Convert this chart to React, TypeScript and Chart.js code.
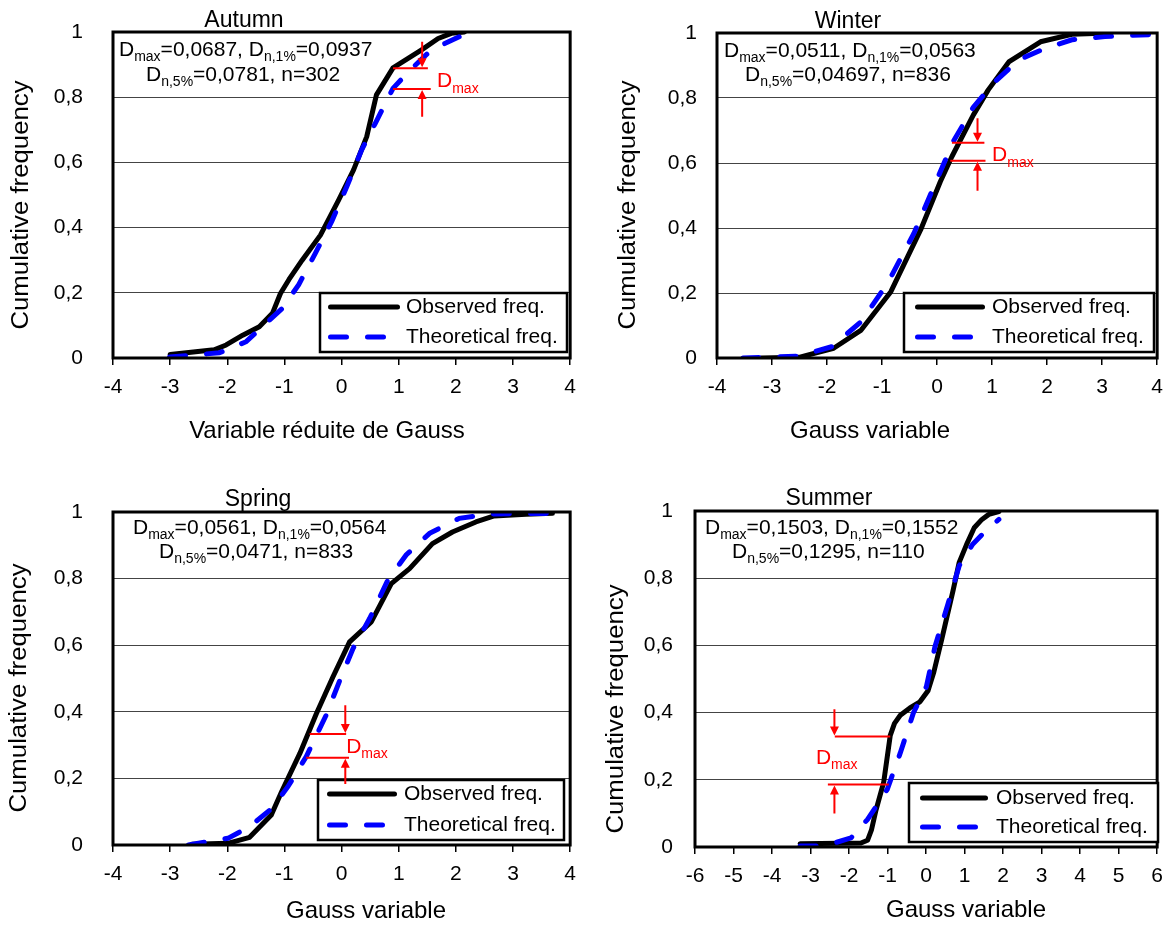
import React, { useEffect, useRef } from "react";
import { Chart, registerables } from "chart.js";

Chart.register(...registerables);

const FONT = '"Liberation Sans", Arial, Helvetica, sans-serif';

// ---------------- Data ----------------
const autumnObsX = [-3.0, -2.23, -2.02, -1.73, -1.44, -1.21, -1.07, -0.92, -0.69, -0.37, -0.05, 0.21, 0.44, 0.61, 0.9, 1.4, 1.69, 1.92, 2.15];
const autumnObsY = [0.011, 0.025, 0.04, 0.07, 0.096, 0.137, 0.198, 0.241, 0.3, 0.377, 0.485, 0.577, 0.679, 0.807, 0.89, 0.945, 0.98, 0.996, 1.0];
const autumnTheoX = [-3.01, -2.14, -1.67, -1.04, -0.75, -0.46, -0.17, 0.09, 0.35, 0.59, 0.9, 1.17, 1.57, 2.15];
const autumnTheoY = [0.003, 0.016, 0.05, 0.152, 0.225, 0.321, 0.42, 0.525, 0.638, 0.72, 0.827, 0.878, 0.945, 0.993];

const winterObsX = [-3.2, -2.51, -1.88, -1.38, -0.84, -0.3, 0.06, 0.27, 0.66, 0.93, 1.31, 1.88, 2.45, 2.99];
const winterObsY = [0.0, 0.002, 0.03, 0.086, 0.204, 0.394, 0.543, 0.62, 0.748, 0.825, 0.912, 0.973, 0.996, 0.999];
const winterTheoX = [-3.53, -2.51, -1.91, -1.38, -0.9, -0.42, -0.06, 0.3, 0.66, 1.05, 1.49, 1.97, 2.45, 3.05, 3.98];
const winterTheoY = [0.0, 0.006, 0.035, 0.112, 0.23, 0.384, 0.527, 0.668, 0.772, 0.85, 0.918, 0.953, 0.979, 0.989, 0.996];

const springObsX = [-2.62, -1.99, -1.61, -1.23, -1.05, -0.73, -0.44, -0.15, 0.14, 0.52, 0.87, 1.19, 1.59, 1.94, 2.35, 2.67, 3.23, 3.69];
const springObsY = [0.002, 0.005, 0.023, 0.09, 0.16, 0.275, 0.395, 0.505, 0.61, 0.67, 0.785, 0.83, 0.905, 0.94, 0.97, 0.988, 0.993, 0.996];
const springTheoX = [-2.68, -1.99, -1.61, -1.22, -0.94, -0.62, -0.27, -0.03, 0.2, 0.49, 0.81, 1.13, 1.54, 2.06, 2.64, 3.69];
const springTheoY = [0.0, 0.02, 0.055, 0.11, 0.175, 0.265, 0.39, 0.495, 0.59, 0.68, 0.796, 0.871, 0.936, 0.981, 0.994, 0.996];

const summerObsX = [-3.27, -1.69, -1.52, -1.42, -1.3, -1.1, -0.93, -0.82, -0.67, -0.42, -0.16, 0.05, 0.2, 0.4, 0.7, 0.86, 1.05, 1.25, 1.45, 1.63, 1.89];
const summerObsY = [0.01, 0.012, 0.02, 0.05, 0.11, 0.193, 0.332, 0.368, 0.392, 0.414, 0.432, 0.465, 0.52, 0.615, 0.763, 0.847, 0.9, 0.95, 0.975, 0.99, 0.998];
const summerTheoX = [-3.27, -2.85, -2.38, -1.95, -1.52, -1.01, -0.67, -0.33, 0.01, 0.23, 0.57, 0.86, 1.21, 1.55, 1.89];
const summerTheoY = [0.003, 0.003, 0.012, 0.027, 0.082, 0.171, 0.28, 0.399, 0.478, 0.596, 0.724, 0.837, 0.901, 0.941, 0.975];

const obsX = [autumnObsX, winterObsX, springObsX, summerObsX];
const obsY = [autumnObsY, winterObsY, springObsY, summerObsY];
const theoX = [autumnTheoX, winterTheoX, springTheoX, summerTheoX];
const theoY = [autumnTheoY, winterTheoY, springTheoY, summerTheoY];

const seasonNames = ["Autumn", "Winter", "Spring", "Summer"];
const dmaxValues = ["0,0687", "0,0511", "0,0561", "0,1503"];
const dn1Values = ["0,0937", "0,0563", "0,0564", "0,1552"];
const dn5Values = ["0,0781", "0,04697", "0,0471", "0,1295"];
const nValues = ["302", "836", "833", "110"];
const legendLabels = ["Observed freq.", "Theoretical freq."];
const xAxisTitles = ["Variable réduite de Gauss", "Gauss variable", "Gauss variable", "Gauss variable"];
const yAxisTitle = "Cumulative frequency";
const yTickLabels = ["0", "0,2", "0,4", "0,6", "0,8", "1"];
const xTickLabels4 = ["-4", "-3", "-2", "-1", "0", "1", "2", "3", "4"];
const xTickLabels6 = ["-6", "-5", "-4", "-3", "-2", "-1", "0", "1", "2", "3", "4", "5", "6"];
const xTickLabelSets = [xTickLabels4, xTickLabels4, xTickLabels4, xTickLabels6];
const xMins = [-4, -4, -4, -6];
const xMaxs = [4, 4, 4, 6];

// Dmax marker (data units)
const dmaxArrowX = [1.41, 0.735, 0.065, -2.38];
const dmaxUpperY = [0.889, 0.662, 0.333, 0.329];
const dmaxLowerY = [0.825, 0.607, 0.262, 0.186];
const dmaxUpperFrom = [0.9, 0.27, -0.56, -2.37];
const dmaxUpperTo = [1.51, 0.86, 0.08, -0.93];
const dmaxLowerFrom = [0.9, 0.24, -0.62, -2.55];
const dmaxLowerTo = [1.56, 0.88, 0.13, -0.97];
const dmaxArrowTop = [0.97, 0.738, 0.42, 0.41];
const dmaxArrowBottom = [0.74, 0.515, 0.183, 0.1];
const dmaxLabelX = [1.67, 1.0, 0.08, -2.86];
const dmaxLabelY = [0.853, 0.628, 0.3, 0.27];

// ---------------- Layout (page px) ----------------
type Panel = {
  canvas: number[]; area: number[]; yPad: number; title: number[];
  s1: number[]; s2: number[]; box: number[]; lineX: number[]; textX: number; rows: number[];
  xTitle: number[]; yTitle: number[];
};
const PANELS: Panel[] = [
  { canvas: [0, 0, 586, 464], area: [113, 32, 573, 358], yPad: 30, title: [244, 21], s1: [119, 48], s2: [146, 73],
    box: [320, 293, 567, 352], lineX: [328, 400], textX: 406, rows: [307, 337], xTitle: [327, 431], yTitle: [22, 205] },
  { canvas: [586, 0, 587, 464], area: [717, 33, 1163, 358], yPad: 20, title: [848, 22], s1: [724, 49], s2: [745, 73],
    box: [904, 293, 1154, 352], lineX: [915, 985], textX: 992, rows: [307, 337], xTitle: [870, 431], yTitle: [629, 205] },
  { canvas: [0, 464, 586, 465], area: [113, 512, 571, 845], yPad: 30, title: [258, 500], s1: [133, 526], s2: [159, 550],
    box: [318, 780, 564, 840], lineX: [327, 397], textX: 404, rows: [794, 825], xTitle: [366, 911], yTitle: [20, 688] },
  { canvas: [586, 464, 587, 465], area: [695, 511, 1164, 847], yPad: 22, title: [829, 499], s1: [705, 526], s2: [732, 550],
    box: [909, 783, 1158, 842], lineX: [920, 988], textX: 996, rows: [798, 827], xTitle: [966, 910], yTitle: [617, 709] },
];

function drawRich(ctx: CanvasRenderingContext2D, text: string, x: number, yc: number, size: number, sub: number, color: string) {
  const re = /_\{([^}]*)\}/g;
  const parts: { t: string; s: boolean }[] = [];
  let last = 0; let m: RegExpExecArray | null;
  while ((m = re.exec(text))) {
    if (m.index > last) parts.push({ t: text.slice(last, m.index), s: false });
    parts.push({ t: m[1], s: true });
    last = m.index + m[0].length;
  }
  if (last < text.length) parts.push({ t: text.slice(last), s: false });
  const base = yc + size * 0.36;
  let cx = x;
  ctx.fillStyle = color;
  ctx.textAlign = "left";
  ctx.textBaseline = "alphabetic";
  for (const p of parts) {
    ctx.font = `${p.s ? sub : size}px ${FONT}`;
    ctx.fillText(p.t, cx, p.s ? base + size * 0.24 : base);
    cx += ctx.measureText(p.t).width;
  }
}

function makePlugin(i: number) {
  const P = PANELS[i];
  const ox = P.canvas[0], oy = P.canvas[1];
  return {
    id: "decor" + i,
    afterDatasetsDraw(chart: any) {
      const ctx: CanvasRenderingContext2D = chart.ctx;
      const a = chart.chartArea;
      ctx.save();
      ctx.strokeStyle = "#000";
      ctx.lineWidth = 3;
      ctx.strokeRect(a.left, a.top, a.right - a.left, a.bottom - a.top);
      ctx.restore();
    },
    afterDraw(chart: any) {
      const ctx: CanvasRenderingContext2D = chart.ctx;
      const xs = chart.scales.x, ys = chart.scales.y;
      ctx.save();
      ctx.fillStyle = "#000";
      ctx.textAlign = "center";
      ctx.textBaseline = "middle";
      // panel title
      ctx.font = `23px ${FONT}`;
      ctx.fillText(seasonNames[i], P.title[0] - ox, P.title[1] - oy);
      // x axis title
      ctx.font = `24px ${FONT}`;
      ctx.fillText(xAxisTitles[i], P.xTitle[0] - ox, P.xTitle[1] - oy);
      // y axis title (slightly elongated like the original)
      ctx.save();
      ctx.font = `23px ${FONT}`;
      ctx.translate(P.yTitle[0] - ox, P.yTitle[1] - oy);
      ctx.rotate(-Math.PI / 2);
      ctx.scale(1.12, 1);
      ctx.fillText(yAxisTitle, 0, 0);
      ctx.restore();
      // stats
      drawRich(ctx, `D_{max}=${dmaxValues[i]}, D_{n,1%}=${dn1Values[i]}`, P.s1[0] - ox, P.s1[1] - oy, 21, 14, "#000");
      drawRich(ctx, `D_{n,5%}=${dn5Values[i]}, n=${nValues[i]}`, P.s2[0] - ox, P.s2[1] - oy, 21, 14, "#000");
      // legend
      const b = P.box;
      ctx.fillStyle = "#fff";
      ctx.fillRect(b[0] - ox, b[1] - oy, b[2] - b[0], b[3] - b[1]);
      ctx.strokeStyle = "#000";
      ctx.lineWidth = 2.5;
      ctx.strokeRect(b[0] - ox, b[1] - oy, b[2] - b[0], b[3] - b[1]);
      ctx.lineWidth = 5;
      ctx.lineCap = "round";
      ctx.beginPath();
      ctx.moveTo(P.lineX[0] + 2.5 - ox, P.rows[0] - oy);
      ctx.lineTo(P.lineX[1] - 2.5 - ox, P.rows[0] - oy);
      ctx.stroke();
      ctx.strokeStyle = "#0000ff";
      ctx.setLineDash([16, 21]);
      ctx.beginPath();
      ctx.moveTo(P.lineX[0] + 2.5 - ox, P.rows[1] - oy);
      ctx.lineTo(P.lineX[1] - 2.5 - ox, P.rows[1] - oy);
      ctx.stroke();
      ctx.setLineDash([]);
      ctx.fillStyle = "#000";
      ctx.font = `21px ${FONT}`;
      ctx.textAlign = "left";
      ctx.textBaseline = "middle";
      ctx.fillText(legendLabels[0], P.textX - ox, P.rows[0] - oy);
      ctx.fillText(legendLabels[1], P.textX - ox, P.rows[1] - oy);
      // Dmax marker
      ctx.strokeStyle = "#ff0000";
      ctx.fillStyle = "#ff0000";
      ctx.lineWidth = 2;
      ctx.lineCap = "butt";
      const yU = ys.getPixelForValue(dmaxUpperY[i]);
      const yL = ys.getPixelForValue(dmaxLowerY[i]);
      const ax = xs.getPixelForValue(dmaxArrowX[i]);
      const yT = ys.getPixelForValue(dmaxArrowTop[i]);
      const yB = ys.getPixelForValue(dmaxArrowBottom[i]);
      ctx.beginPath();
      ctx.moveTo(xs.getPixelForValue(dmaxUpperFrom[i]), yU);
      ctx.lineTo(xs.getPixelForValue(dmaxUpperTo[i]), yU);
      ctx.moveTo(xs.getPixelForValue(dmaxLowerFrom[i]), yL);
      ctx.lineTo(xs.getPixelForValue(dmaxLowerTo[i]), yL);
      ctx.moveTo(ax, yT);
      ctx.lineTo(ax, yU - 8);
      ctx.moveTo(ax, yB);
      ctx.lineTo(ax, yL + 8);
      ctx.stroke();
      ctx.beginPath();
      ctx.moveTo(ax, yU - 1);
      ctx.lineTo(ax - 4.5, yU - 10);
      ctx.lineTo(ax + 4.5, yU - 10);
      ctx.closePath();
      ctx.fill();
      ctx.beginPath();
      ctx.moveTo(ax, yL + 1);
      ctx.lineTo(ax - 4.5, yL + 10);
      ctx.lineTo(ax + 4.5, yL + 10);
      ctx.closePath();
      ctx.fill();
      drawRich(ctx, "D_{max}", xs.getPixelForValue(dmaxLabelX[i]), ys.getPixelForValue(dmaxLabelY[i]), 21, 14, "#ff0000");
      ctx.restore();
    },
  };
}

function buildConfig(i: number): any {
  const P = PANELS[i];
  const [cl, ct, cw, chh] = P.canvas;
  const [al, at, ar, ab] = P.area;
  const xLabels = xTickLabelSets[i];
  const obs = obsX[i].map((x, k) => ({ x, y: obsY[i][k] }));
  const theo = theoX[i].map((x, k) => ({ x, y: theoY[i][k] }));
  return {
    type: "line",
    data: {
      datasets: [
        { label: legendLabels[1], data: theo, borderColor: "#0000ff", borderWidth: 5, borderDash: [16, 21],
          borderCapStyle: "round", pointRadius: 0, tension: 0, fill: false, order: 0 },
        { label: legendLabels[0], data: obs, borderColor: "#000000", borderWidth: 5, borderJoinStyle: "round",
          borderCapStyle: "round", pointRadius: 0, tension: 0, fill: false, order: 1 },
      ],
    },
    options: {
      responsive: false,
      animation: false,
      devicePixelRatio: 1,
      layout: { padding: { left: 0, top: at - ct, right: cl + cw - ar, bottom: 0 } },
      plugins: { legend: { display: false }, tooltip: { enabled: false }, title: { display: false } },
      scales: {
        x: {
          type: "linear", min: xMins[i], max: xMaxs[i],
          afterFit: (s: any) => { s.height = ct + chh - ab; },
          ticks: { stepSize: 1, color: "#000", font: { family: FONT, size: 21 }, padding: 10, maxRotation: 0,
            autoSkip: false, callback: (_v: any, idx: number) => xLabels[idx] },
          grid: { display: true, drawOnChartArea: false, drawTicks: true, tickLength: 7, color: "#000", lineWidth: 1.5 },
          border: { display: false },
        },
        y: {
          type: "linear", min: 0, max: 1,
          afterFit: (s: any) => { s.width = al - cl; },
          ticks: { stepSize: 0.2, color: "#000", font: { family: FONT, size: 21 }, padding: 0,
            callback: (_v: any, idx: number) => yTickLabels[idx] },
          grid: { display: true, drawTicks: true, tickLength: P.yPad, tickColor: "rgba(0,0,0,0)", color: "#444", lineWidth: 1 },
          border: { display: false },
        },
      },
    },
    plugins: [makePlugin(i)],
  };
}

export default function App() {
  const refs = useRef<(HTMLCanvasElement | null)[]>([]);
  useEffect(() => {
    const charts = PANELS.map((_p, i) => new Chart(refs.current[i] as HTMLCanvasElement, buildConfig(i)));
    return () => charts.forEach((c) => c.destroy());
  }, []);
  return (
    <div style={{ position: "fixed", left: 0, top: 0, width: 1173, height: 929, background: "#fff" }}>
      {PANELS.map((p, i) => (
        <canvas
          key={i}
          ref={(el) => { refs.current[i] = el; }}
          width={p.canvas[2]}
          height={p.canvas[3]}
          style={{ position: "absolute", left: p.canvas[0], top: p.canvas[1], width: p.canvas[2], height: p.canvas[3] }}
        />
      ))}
    </div>
  );
}
